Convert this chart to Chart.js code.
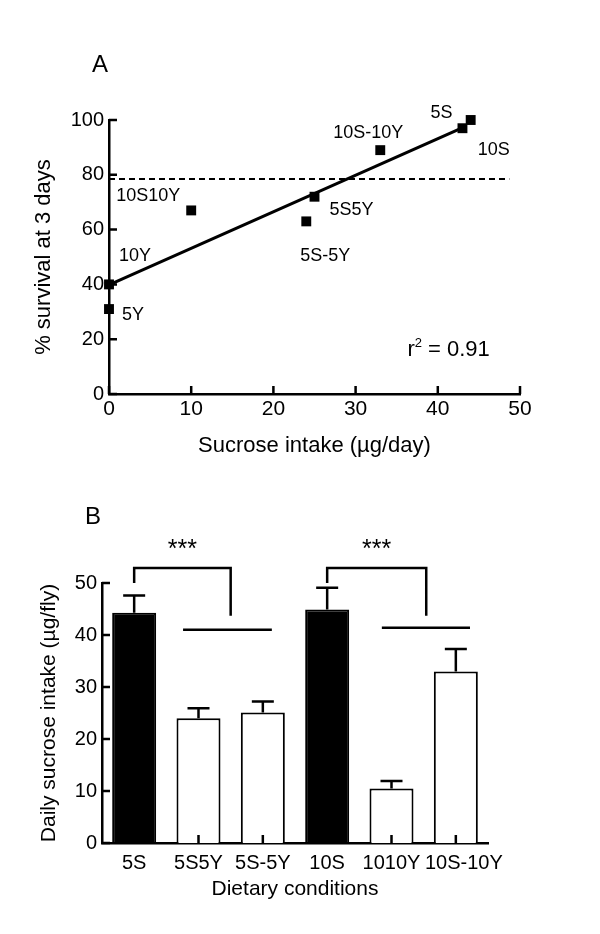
<!DOCTYPE html>
<html>
<head>
<meta charset="utf-8">
<script src="https://cdn.jsdelivr.net/npm/chart.js@4.4.1/dist/chart.umd.min.js"></script>
<style>
  body { margin: 0; background: #fff; }
  canvas { display: block; }
</style>
</head>
<body>
<canvas id="chartA" width="600" height="467"></canvas>
<canvas id="chartB" width="600" height="467"></canvas>
<script>
// Panel A - survival at 3 days vs sucrose intake
const dietsA = ['5Y', '10Y', '10S10Y', '5S-5Y', '5S5Y', '10S-10Y', '5S', '10S'];
const sucroseIntake = [0, 0, 10, 24, 25, 33, 43, 44];
const survival3d = [31, 40, 67, 63, 72, 89, 97, 100];
const fitX = [0, 43.3];
const fitY = [39.8, 97.6];
const cutoffX = [0, 48.7];
const cutoffY = [78.5, 78.5];

// Panel B - daily sucrose intake per diet
const dietsB = ['5S', '5S5Y', '5S-5Y', '10S', '1010Y', '10S-10Y'];
const intakeMean = [44.3, 24.0, 25.1, 44.9, 10.5, 33.0];
const intakeErr = [3.3, 1.9, 2.1, 4.2, 1.4, 4.3];
const sucroseOnly = [true, false, false, true, false, false];

// where the little name tags sit relative to each point (px)
const labelOffsets = [[24, 6], [26, -28], [-43, -14], [19, 35], [37, 13], [-12, -17], [-21, -15], [23, 30]];
const labelShiftB = [0, 0, 0, 0, 0, 8];
// significance brackets, in category index / y value units
const brackets = [
  {from: 0, to: 1.5, top: 52.9, fromEnd: 50, toEnd: 43.7, lineFrom: 0.76, lineTo: 2.14, lineAt: 41.0},
  {from: 3, to: 4.54, top: 52.9, fromEnd: 50, toEnd: 43.7, lineFrom: 3.85, lineTo: 5.22, lineAt: 41.4}
];
const rSquaredAt = {x: 36.3, y: 13.9};

const FONT = "'Liberation Sans', Arial, sans-serif";
Chart.defaults.font.family = FONT;
Chart.defaults.color = '#000';

// ticks pointing into the plot, like the original figure
const inwardTicks = {
  id: 'inwardTicks',
  afterDraw(chart, args, opts) {
    const {ctx, chartArea: a, scales} = chart;
    ctx.save();
    ctx.strokeStyle = '#000';
    ctx.lineWidth = 2.5;
    ctx.beginPath();
    scales.x.ticks.forEach((t, i) => {
      const p = scales.x.getPixelForTick(i);
      ctx.moveTo(p, a.bottom);
      ctx.lineTo(p, a.bottom - opts.length);
    });
    scales.y.ticks.forEach((t, i) => {
      const p = scales.y.getPixelForTick(i);
      ctx.moveTo(a.left, p);
      ctx.lineTo(a.left + opts.length, p);
    });
    ctx.stroke();
    ctx.restore();
  }
};

const panelLetter = {
  id: 'panelLetter',
  afterDraw(chart, args, opts) {
    const ctx = chart.ctx;
    ctx.save();
    ctx.font = '24px ' + FONT;
    ctx.fillStyle = '#000';
    ctx.textAlign = 'center';
    ctx.textBaseline = 'middle';
    ctx.fillText(opts.text, opts.x, opts.y);
    ctx.restore();
  }
};

const pointNames = {
  id: 'pointNames',
  afterDatasetsDraw(chart) {
    const ctx = chart.ctx;
    const meta = chart.getDatasetMeta(0);
    ctx.save();
    ctx.fillStyle = '#000';
    ctx.font = '18px ' + FONT;
    ctx.textAlign = 'center';
    ctx.textBaseline = 'middle';
    meta.data.forEach((pt, i) => {
      ctx.fillText(dietsA[i], pt.x + labelOffsets[i][0], pt.y + labelOffsets[i][1]);
    });
    // r squared note
    let x = chart.scales.x.getPixelForValue(rSquaredAt.x);
    const y = chart.scales.y.getPixelForValue(rSquaredAt.y);
    ctx.textAlign = 'left';
    ctx.textBaseline = 'alphabetic';
    ctx.font = '22px ' + FONT;
    ctx.fillText('r', x, y);
    x += ctx.measureText('r').width;
    ctx.font = '13px ' + FONT;
    ctx.fillText('2', x, y - 9);
    x += ctx.measureText('2').width;
    ctx.font = '22px ' + FONT;
    ctx.fillText(' = 0.91', x, y);
    ctx.restore();
  }
};

const errorBars = {
  id: 'errorBars',
  afterDatasetsDraw(chart) {
    const {ctx, scales} = chart;
    const xs = scales.x, ys = scales.y;
    const meta = chart.getDatasetMeta(0);
    ctx.save();
    ctx.strokeStyle = '#000';
    ctx.fillStyle = '#000';
    ctx.lineWidth = 2.5;
    ctx.beginPath();
    meta.data.forEach((bar, i) => {
      const top = ys.getPixelForValue(intakeMean[i] + intakeErr[i]);
      ctx.moveTo(bar.x, bar.y);
      ctx.lineTo(bar.x, top);
      ctx.moveTo(bar.x - 11, top);
      ctx.lineTo(bar.x + 11, top);
    });
    // brackets
    brackets.forEach(b => {
      const x1 = xs.getPixelForValue(b.from), x2 = xs.getPixelForValue(b.to);
      const yt = ys.getPixelForValue(b.top);
      ctx.moveTo(x1, ys.getPixelForValue(b.fromEnd));
      ctx.lineTo(x1, yt);
      ctx.lineTo(x2, yt);
      ctx.lineTo(x2, ys.getPixelForValue(b.toEnd));
      const yl = ys.getPixelForValue(b.lineAt);
      ctx.moveTo(xs.getPixelForValue(b.lineFrom), yl);
      ctx.lineTo(xs.getPixelForValue(b.lineTo), yl);
    });
    ctx.stroke();
    ctx.font = '25px ' + FONT;
    ctx.textAlign = 'center';
    ctx.textBaseline = 'alphabetic';
    brackets.forEach(b => {
      const mid = (xs.getPixelForValue(b.from) + xs.getPixelForValue(b.to)) / 2;
      ctx.fillText('***', mid, ys.getPixelForValue(b.top) - 11);
    });
    // category names under the bars
    ctx.font = '20px ' + FONT;
    ctx.textBaseline = 'middle';
    xs.ticks.forEach((t, i) => {
      ctx.fillText(xs.getLabelForValue(t.value), xs.getPixelForTick(i) + labelShiftB[i], chart.chartArea.bottom + 20);
    });
    ctx.restore();
  }
};

new Chart('chartA', {
  type: 'scatter',
  data: {
    datasets: [
      {
        label: 'diets',
        data: sucroseIntake.map((v, i) => ({x: v, y: survival3d[i]})),
        pointStyle: 'rect',
        pointRadius: 7,
        backgroundColor: '#000',
        borderWidth: 0,
        clip: false
      },
      {
        label: 'fit',
        data: fitX.map((v, i) => ({x: v, y: fitY[i]})),
        showLine: true,
        pointRadius: 0,
        borderColor: '#000',
        borderWidth: 3,
        clip: false
      },
      {
        label: 'cutoff',
        data: cutoffX.map((v, i) => ({x: v, y: cutoffY[i]})),
        showLine: true,
        pointRadius: 0,
        borderColor: '#000',
        borderWidth: 2,
        borderDash: [6, 4],
        clip: false
      }
    ]
  },
  options: {
    responsive: false,
    animation: false,
    devicePixelRatio: 1,
    events: [],
    layout: {padding: {left: 31, right: 80, top: 120, bottom: 0}},
    plugins: {
      legend: {display: false},
      tooltip: {enabled: false},
      inwardTicks: {length: 8},
      panelLetter: {text: 'A', x: 100, y: 65}
    },
    scales: {
      x: {
        type: 'linear', min: 0, max: 50,
        afterFit: s => { s.height = 73; },
        grid: {display: false, drawTicks: false},
        border: {display: true, color: '#000', width: 2.5},
        ticks: {stepSize: 10, padding: 3, font: {size: 21}, color: '#000'},
        title: {display: true, text: 'Sucrose intake (\u00b5g/day)', font: {size: 22}, color: '#000', padding: {top: 0, bottom: 8}}
      },
      y: {
        type: 'linear', min: 0, max: 100,
        afterFit: s => { s.width = 78; },
        grid: {display: false, drawTicks: false},
        border: {display: true, color: '#000', width: 2.5},
        ticks: {stepSize: 20, padding: 5, font: {size: 20}, color: '#000'},
        title: {display: true, text: '% survival at 3 days', font: {size: 22}, color: '#000', padding: 0}
      }
    }
  },
  plugins: [inwardTicks, panelLetter, pointNames]
});

new Chart('chartB', {
  type: 'bar',
  data: {
    labels: dietsB,
    datasets: [{
      label: 'intake',
      data: intakeMean,
      backgroundColor: sucroseOnly.map(s => s ? '#000' : '#fff'),
      borderColor: '#000',
      borderWidth: 2,
      borderSkipped: 'start',
      barPercentage: 0.684,
      categoryPercentage: 1
    }]
  },
  options: {
    responsive: false,
    animation: false,
    devicePixelRatio: 1,
    events: [],
    layout: {padding: {left: 37, right: 112, top: 116, bottom: 0}},
    plugins: {
      legend: {display: false},
      tooltip: {enabled: false},
      inwardTicks: {length: 8},
      panelLetter: {text: 'B', x: 93, y: 50}
    },
    scales: {
      x: {
        afterFit: s => { s.height = 91; },
        grid: {display: false, drawTicks: false},
        border: {display: true, color: '#000', width: 2.5},
        ticks: {display: false},
        title: {display: true, text: 'Dietary conditions', font: {size: 21}, color: '#000', padding: {top: 0, bottom: 32}}
      },
      y: {
        min: 0, max: 50,
        afterFit: s => { s.width = 65; },
        grid: {display: false, drawTicks: false},
        border: {display: true, color: '#000', width: 2.5},
        ticks: {stepSize: 10, padding: 5, font: {size: 20}, color: '#000'},
        title: {display: true, text: 'Daily sucrose intake (\u00b5g/fly)', font: {size: 21}, color: '#000', padding: 0}
      }
    }
  },
  plugins: [inwardTicks, panelLetter, errorBars]
});
</script>
</body>
</html>
